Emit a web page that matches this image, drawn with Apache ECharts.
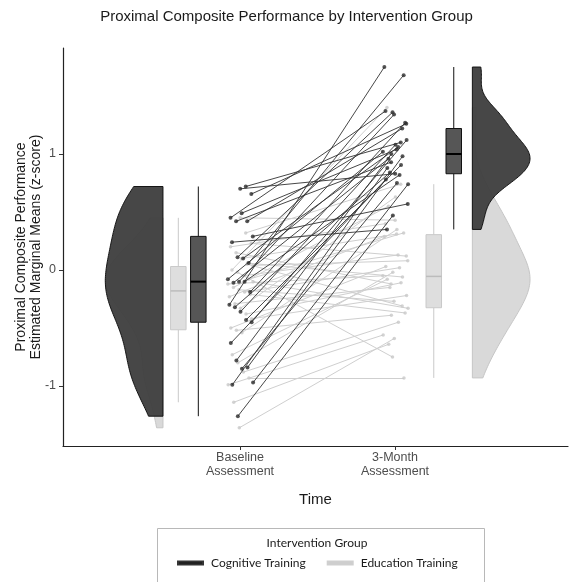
<!DOCTYPE html>
<html><head><meta charset="utf-8">
<script src="https://cdn.jsdelivr.net/npm/echarts@6/dist/echarts.min.js"></script>
<style>html,body{margin:0;padding:0;background:#fff}#c{width:573px;height:582px}</style>
</head><body><div id="c"></div>
<script>
// ---------- data ----------
const timeLabels = ['Baseline\nAssessment', '3-Month\nAssessment'];
const timePositions = [1, 2];
const groupNames = ['Cognitive Training', 'Education Training'];
const yTicks = [-1, 0, 1];
const chartTitle = 'Proximal Composite Performance by Intervention Group';
const yTitle = 'Proximal Composite Performance\nEstimated Marginal Means (z-score)';
const xTitle = 'Time';
const legendTitle = 'Intervention Group';

// Cognitive Training: per participant baseline and 3-month values
const cogBaseline = [0.70, 0.72, 0.655, 0.45, 0.42, 0.49, 0.42, 0.29, 0.24, 0.11, 0.10, 0.06, -0.08, -0.11, -0.10, -0.10, -0.19, -0.30, -0.32, -0.36, -0.43, -0.45, -0.63, -0.78, -0.85, -0.84, -0.97, -0.99, -1.26];
const cogMonth3   = [0.83, 1.10, 1.26, 1.37, 0.93, 1.04, 1.22, 0.57, 0.35, 1.36, 1.06, 1.68, 1.02, 0.96, 1.34, 0.82, 1.27, 1.75, 0.84, 1.08, 0.905, 1.12, 0.78, 1.00, 0.75, 0.98, 0.74, 0.88, 0.47];
// Education Training
const eduBaseline = [0.45, 0.32, 0.23, 0.20, 0.15, 0.10, 0.05, 0.04, 0.00, -0.02, -0.05, -0.08, -0.12, -0.15, -0.17, -0.19, -0.21, -0.23, -0.29, -0.33, -0.38, -0.42, -0.50, -0.52, -0.54, 0.06, -0.10, -0.73, -0.80, -0.88, -0.93, -0.99, -1.14, -1.36];
const eduMonth3   = [0.43, 0.74, 0.12, 0.40, -0.12, 0.31, -0.31, 0.08, 1.40, -0.75, 0.13, 0.32, -0.05, 0.55, -0.27, 0.02, -0.37, 0.29, -0.15, 0.63, -0.11, -0.22, 0.03, -0.39, 0.35, -0.06, -0.33, -0.08, -0.02, -0.45, -0.93, -0.56, -0.64, -0.59];

// ---------- layout constants ----------
const XMIN = -0.142, XMAX = 3.116, YMIN = -1.517, YMAX = 1.914;
const VIOLIN_EDGE = [0.503, 2.499], VIOLIN_DIR = [-1, 1], VIOLIN_W = 0.372;
const BOX_X = {cog: [0.731, 2.379], edu: [0.602, 2.25]}, BOX_W = 0.1;
const JIT = 0.085;
const DARK = '#404040', LIGHT = '#d9d9d9';

// ---------- helpers ----------
function sortAsc(a){ return [...a].sort((p,q)=>p-q); }
function quantile(s, p){ const h=(s.length-1)*p, lo=Math.floor(h), hi=Math.ceil(h); return s[lo]+(h-lo)*(s[hi]-s[lo]); }
function bwNrd0(a){
  const n=a.length, m=a.reduce((s,v)=>s+v,0)/n;
  const sd=Math.sqrt(a.reduce((s,v)=>s+(v-m)*(v-m),0)/(n-1));
  const s=sortAsc(a), iqr=quantile(s,.75)-quantile(s,.25);
  return 0.9*Math.min(sd, iqr/1.34)*Math.pow(n,-0.2);
}
function kde(a, steps){
  const bw=bwNrd0(a), lo=Math.min(...a), hi=Math.max(...a), pts=[];
  for(let i=0;i<=steps;i++){
    const y=lo+(hi-lo)*i/steps; let d=0;
    for(const v of a){ const z=(y-v)/bw; d+=Math.exp(-0.5*z*z); }
    pts.push([y, d]);
  }
  const mx=Math.max(...pts.map(p=>p[1]));
  return pts.map(p=>[p[0], p[1]/mx]);
}
function boxStats(a){
  const s=sortAsc(a), q1=quantile(s,.25), med=quantile(s,.5), q3=quantile(s,.75), iqr=q3-q1;
  const lo=s.find(v=>v>=q1-1.5*iqr), hi=[...s].reverse().find(v=>v<=q3+1.5*iqr);
  return {q1, median:med, q3, lo, hi};
}
function jitter(i, k){ const h=((i*7919 + k*3571 + 17)*2654435761 % 4294967296)/4294967296; return (h*2-1)*JIT; }

// ---------- violins ----------
const violins = [
  {vals: eduBaseline, t:0, fill: LIGHT, stroke:'#c6c6c6', op:1},
  {vals: eduMonth3,   t:1, fill: LIGHT, stroke:'#c6c6c6', op:1},
  {vals: cogBaseline, t:0, fill: DARK,  stroke:'#111111', op:0.96},
  {vals: cogMonth3,   t:1, fill: DARK,  stroke:'#111111', op:0.96}
].map(v=>Object.assign(v, {dens: kde(v.vals, 120)}));

function violinSeries(list){
  return {
    type:'custom', coordinateSystem:'cartesian2d', silent:true,
    data: list.map(v=>[VIOLIN_EDGE[v.t], 0]),
    renderItem: function(params, api){
      const v = list[params.dataIndex];
      const e = VIOLIN_EDGE[v.t], dir = VIOLIN_DIR[v.t];
      const pts = [];
      pts.push(api.coord([e, v.dens[0][0]]));
      v.dens.forEach(d=>pts.push(api.coord([e + dir*VIOLIN_W*d[1], d[0]])));
      pts.push(api.coord([e, v.dens[v.dens.length-1][0]]));
      return {type:'polygon', shape:{points:pts},
        style:{fill:v.fill, stroke:v.stroke, lineWidth:1, opacity:v.op}};
    }
  };
}

// ---------- boxes ----------
const boxes = [
  Object.assign(boxStats(eduBaseline), {x:BOX_X.edu[0], fill:'#dedede', stroke:'#c9c9c9', mc:'#bcbcbc', mw:1.5}),
  Object.assign(boxStats(eduMonth3),   {x:BOX_X.edu[1], fill:'#dedede', stroke:'#c9c9c9', mc:'#bcbcbc', mw:1.5}),
  Object.assign(boxStats(cogBaseline), {x:BOX_X.cog[0], fill:'#565656', stroke:'#111111', mc:'#000000', mw:2}),
  Object.assign(boxStats(cogMonth3),   {x:BOX_X.cog[1], fill:'#565656', stroke:'#111111', mc:'#000000', mw:2})
];

const boxSeries = {
  type:'custom', coordinateSystem:'cartesian2d', silent:true,
  data: boxes.map(b=>[b.x, b.median]),
  renderItem: function(params, api){
    const b = boxes[params.dataIndex];
    const l = api.coord([b.x - BOX_W/2, b.q3]), r = api.coord([b.x + BOX_W/2, b.q1]);
    const top = api.coord([b.x, b.hi]), q3p = api.coord([b.x, b.q3]), q1p = api.coord([b.x, b.q1]), bot = api.coord([b.x, b.lo]);
    const mL = api.coord([b.x - BOX_W/2, b.median]), mR = api.coord([b.x + BOX_W/2, b.median]);
    return {type:'group', children:[
      {type:'line', shape:{x1:top[0], y1:top[1], x2:q3p[0], y2:q3p[1]}, style:{stroke:b.stroke, lineWidth:1}},
      {type:'line', shape:{x1:q1p[0], y1:q1p[1], x2:bot[0], y2:bot[1]}, style:{stroke:b.stroke, lineWidth:1}},
      {type:'rect', shape:{x:l[0], y:l[1], width:r[0]-l[0], height:r[1]-l[1]}, style:{fill:b.fill, stroke:b.stroke, lineWidth:1}},
      {type:'line', shape:{x1:mL[0], y1:mL[1], x2:mR[0], y2:mR[1]}, style:{stroke:b.mc, lineWidth:b.mw}}
    ]};
  }
};

// ---------- lines + points ----------
function pairLines(b, m, g){
  return b.map((v,i)=>({coords:[[timePositions[0]+jitter(i, g*2), v], [timePositions[1]+jitter(i, g*2+1), m[i]]]}));
}
function pairPoints(b, m, g){
  const out=[];
  b.forEach((v,i)=>{ out.push([timePositions[0]+jitter(i, g*2), v]); out.push([timePositions[1]+jitter(i, g*2+1), m[i]]); });
  return out;
}

const option = {
  animation:false,
  backgroundColor:'#ffffff',
  textStyle:{fontFamily:'Liberation Sans, Arial, sans-serif'},
  title:{text:chartTitle, left:'center', top:4,
    textStyle:{fontSize:15, fontWeight:'normal', color:'#1a1a1a', fontFamily:'Liberation Sans, Arial, sans-serif'}},
  grid:{left:63, right:5, top:48, bottom:136},
  xAxis:{type:'value', min:XMIN, max:XMAX,
    name:xTitle, nameLocation:'middle', nameGap:46, nameMoveOverlap:false,
    nameTextStyle:{fontSize:15, color:'#1a1a1a'},
    axisLine:{show:true, onZero:false, lineStyle:{color:'#222', width:1.2}},
    axisTick:{show:true, length:4, customValues:timePositions, lineStyle:{color:'#333'}},
    axisLabel:{show:true, customValues:timePositions, margin:5, fontSize:12.5, lineHeight:14, color:'#4d4d4d',
      formatter:v=>{ const i=timePositions.indexOf(Math.round(v)); return i>=0?timeLabels[i]:''; }},
    splitLine:{show:false}},
  yAxis:{type:'value', min:YMIN, max:YMAX,
    name:yTitle, nameLocation:'middle', nameGap:19, nameRotate:90, nameMoveOverlap:false,
    nameTextStyle:{fontSize:14, color:'#1a1a1a', lineHeight:15},
    axisLine:{show:true, onZero:false, lineStyle:{color:'#222', width:1.2}},
    axisTick:{show:true, length:4, customValues:yTicks, lineStyle:{color:'#333'}},
    axisLabel:{show:true, customValues:yTicks, margin:7, fontSize:12.5, color:'#4d4d4d', formatter:v=>String(Math.round(v))},
    splitLine:{show:false}},
  legend:{
    top:552, left:172, itemGap:21, itemWidth:25, itemHeight:3,
    textStyle:{fontFamily:'Lato, sans-serif', fontSize:12, color:'#1a1a1a', padding:[0,0,0,3]},
    data:[
      {name:groupNames[0], icon:'rect', itemStyle:{color:'#111111'}},
      {name:groupNames[1], icon:'rect', itemStyle:{color:'#cccccc'}}
    ]
  },
  graphic:[
    {type:'rect', left:155, top:526, shape:{width:327, height:80}, style:{fill:'none', stroke:'#b8b8b8', lineWidth:1}, silent:true},
    {type:'text', x:317, y:537, style:{text:legendTitle, textAlign:'center', fill:'#1a1a1a', font:'12px Lato, sans-serif'}, silent:true}
  ],
  series:[
    violinSeries(violins.slice(0,2)),
    violinSeries(violins.slice(2,4)),
    {type:'lines', name:groupNames[1], coordinateSystem:'cartesian2d', silent:true, z:3,
      lineStyle:{color:'#cfcfcf', width:1, opacity:1}, data:pairLines(eduBaseline, eduMonth3, 1)},
    {type:'scatter', silent:true, z:3, symbolSize:3.5, itemStyle:{color:'#c8c8c8'}, data:pairPoints(eduBaseline, eduMonth3, 1)},
    {type:'lines', name:groupNames[0], coordinateSystem:'cartesian2d', silent:true, z:4,
      lineStyle:{color:'#333333', width:1, opacity:0.9}, data:pairLines(cogBaseline, cogMonth3, 0)},
    {type:'scatter', silent:true, z:4, symbolSize:4, itemStyle:{color:'#2a2a2a'}, data:pairPoints(cogBaseline, cogMonth3, 0)},
    boxSeries
  ]
};
const chart = echarts.init(document.getElementById('c'), null, {renderer:'canvas'});
chart.setOption(option);
</script></body></html>
